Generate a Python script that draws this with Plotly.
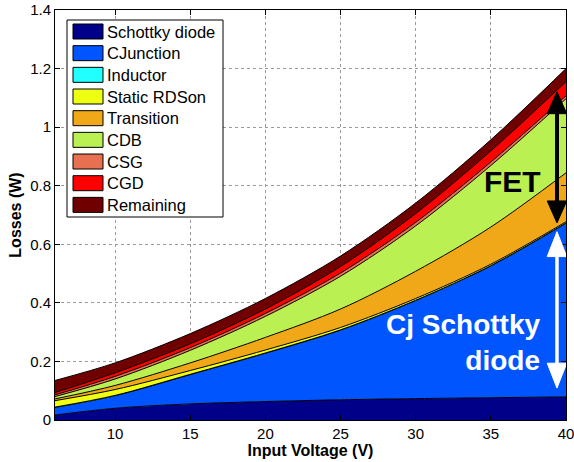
import plotly.graph_objects as go

# ---------------- data ----------------
voltage = [6, 10, 15, 20, 25, 30, 35, 40]
schottky = [0.017, 0.040, 0.055, 0.063, 0.069, 0.073, 0.076, 0.079]
cjunction = [0.026, 0.043, 0.100, 0.165, 0.238, 0.335, 0.450, 0.593]
inductor = [0.001, 0.001, 0.001, 0.001, 0.001, 0.001, 0.001, 0.001]
static_rdson = [0.022, 0.020, 0.013, 0.010, 0.008, 0.006, 0.005, 0.004]
transition = [0.006, 0.014, 0.026, 0.043, 0.063, 0.093, 0.127, 0.167]
cdb = [0.008, 0.022, 0.043, 0.072, 0.112, 0.155, 0.210, 0.253]
csg = [0.006, 0.009, 0.009, 0.010, 0.011, 0.012, 0.012, 0.010]
cgd = [0.008, 0.012, 0.013, 0.015, 0.022, 0.030, 0.038, 0.048]
remaining = [0.041, 0.034, 0.035, 0.036, 0.036, 0.036, 0.038, 0.045]

names = ["Schottky diode", "CJunction", "Inductor", "Static RDSon", "Transition",
         "CDB", "CSG", "CGD", "Remaining"]
series = [schottky, cjunction, inductor, static_rdson, transition, cdb, csg, cgd, remaining]
colors = ["#000088", "#0055FF", "#22FFFF", "#EEFF11", "#F0A818",
          "#BBF052", "#E6704F", "#FF0000", "#700000"]

x_ticks = [10, 15, 20, 25, 30, 35, 40]
y_ticks = [0, 0.2, 0.4, 0.6, 0.8, 1.0, 1.2, 1.4]
y_tick_labels = ["0", "0.2", "0.4", "0.6", "0.8", "1", "1.2", "1.4"]

FONT = "Liberation Sans, Arial, sans-serif"

# plot area in pixels
L, R, T, B = 55, 566, 10, 420
W, H = 574, 462


def px(xp):
    return (xp - L) / (R - L)


def py(yp):
    return (B - yp) / (B - T)


fig = go.Figure()
for name, vals, col in zip(names, series, colors):
    fig.add_trace(go.Scatter(
        x=voltage, y=vals, name=name, stackgroup="one", mode="lines",
        line=dict(color="black", width=1, shape="spline", smoothing=0.9),
        fillcolor=col, showlegend=False, hoverinfo="x+y+name"))

shapes = []
annotations = []

# custom legend (MATLAB style)
shapes.append(dict(type="rect", xref="paper", yref="paper",
                   x0=px(67), x1=px(223), y0=py(217), y1=py(20),
                   line=dict(color="black", width=1), fillcolor="white", layer="above"))
for i, (name, col) in enumerate(zip(names, colors)):
    cy = 31.5 + i * 21.67
    shapes.append(dict(type="rect", xref="paper", yref="paper",
                       x0=px(73), x1=px(103), y0=py(cy + 7.5), y1=py(cy - 7.5),
                       line=dict(color="black", width=1), fillcolor=col, layer="above"))
    annotations.append(dict(xref="paper", yref="paper", x=px(105), y=py(cy),
                            text=name, showarrow=False, xanchor="left", yanchor="middle",
                            font=dict(family=FONT, size=16.5, color="black")))

# FET double arrow (black)
ax = 39.4
hw = 0.65
shapes.append(dict(type="line", xref="x", yref="y", x0=ax, x1=ax, y0=0.74, y1=1.06,
                   line=dict(color="black", width=4), layer="above"))
shapes.append(dict(type="path", xref="x", yref="y",
                   path=f"M {ax-hw},1.046 L {ax},1.121 L {ax+hw},1.046 Z",
                   fillcolor="black", line=dict(color="black", width=1), layer="above"))
shapes.append(dict(type="path", xref="x", yref="y",
                   path=f"M {ax-hw},0.748 L {ax},0.673 L {ax+hw},0.748 Z",
                   fillcolor="black", line=dict(color="black", width=1), layer="above"))

# Cj Schottky double arrow (white)
shapes.append(dict(type="line", xref="x", yref="y", x0=ax, x1=ax, y0=0.18, y1=0.57,
                   line=dict(color="white", width=3.5), layer="above"))
shapes.append(dict(type="path", xref="x", yref="y",
                   path=f"M {ax-hw},0.558 L {ax},0.643 L {ax+hw},0.558 Z",
                   fillcolor="white", line=dict(color="white", width=1), layer="above"))
shapes.append(dict(type="path", xref="x", yref="y",
                   path=f"M {ax-hw},0.194 L {ax},0.109 L {ax+hw},0.194 Z",
                   fillcolor="white", line=dict(color="white", width=1), layer="above"))

annotations.append(dict(xref="paper", yref="paper", x=px(512), y=py(181),
                        text="<b>FET</b>", showarrow=False, xanchor="center", yanchor="middle",
                        font=dict(family=FONT, size=30, color="black")))
annotations.append(dict(xref="paper", yref="paper", x=px(542), y=py(342),
                        text="<b>Cj Schottky<br>diode</b>", showarrow=False, align="right",
                        xanchor="right", yanchor="middle",
                        font=dict(family=FONT, size=28, color="white")))

axis_common = dict(showline=True, linecolor="black", linewidth=1, mirror="ticks",
                   ticks="inside", ticklen=5, tickcolor="black", automargin=False,
                   ticklabeloverflow="allow",
                   showgrid=True, gridcolor="#9a9a9a", griddash="dot", gridwidth=1,
                   zeroline=False, tickfont=dict(family=FONT, size=15, color="black"))

fig.update_layout(
    width=W, height=H,
    margin=dict(l=L, r=W - R, t=T, b=H - B, autoexpand=False),
    paper_bgcolor="white", plot_bgcolor="white",
    xaxis=dict(range=[6, 40], tickvals=x_ticks,
               title=dict(text="<b>Input Voltage (V)</b>", standoff=2,
                          font=dict(family=FONT, size=16, color="black")),
               **axis_common),
    yaxis=dict(range=[0, 1.4], tickvals=y_ticks, ticktext=y_tick_labels,
               title=dict(text="<b>Losses (W)</b>", standoff=4,
                          font=dict(family=FONT, size=16, color="black")),
               **axis_common),
    shapes=shapes, annotations=annotations,
    showlegend=False,
)

fig.write_html("out.html")
